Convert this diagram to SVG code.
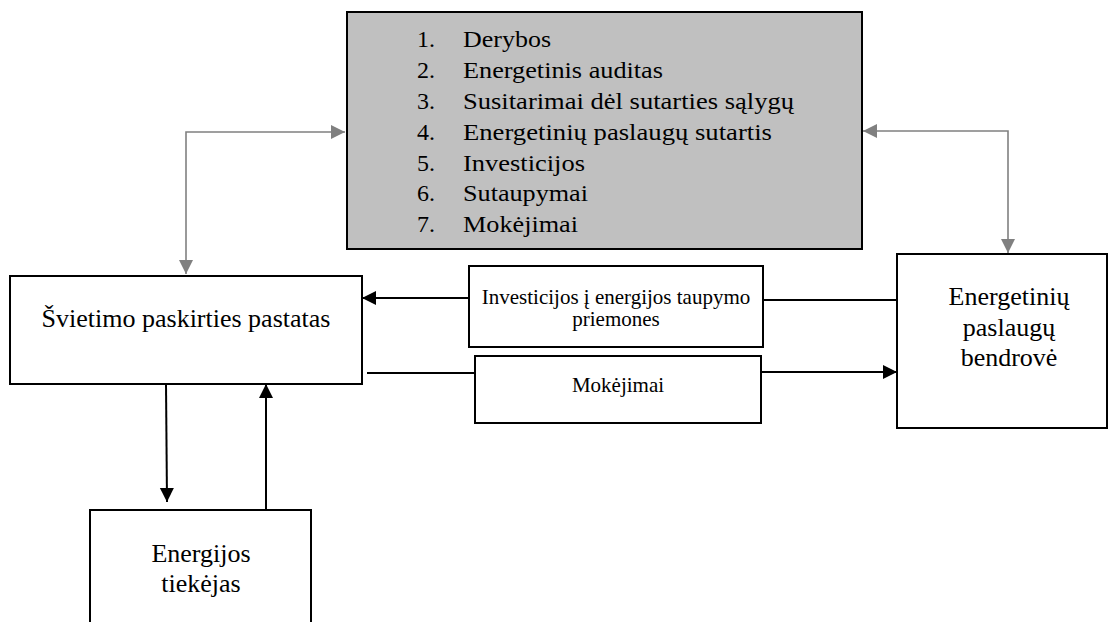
<svg xmlns="http://www.w3.org/2000/svg" width="1109" height="622" viewBox="0 0 1109 622">
<defs>
<marker id="ab" markerUnits="userSpaceOnUse" markerWidth="15" markerHeight="15" refX="14" refY="7" orient="auto-start-reverse" viewBox="0 0 15 15"><path d="M0,0 L14,7 L0,14 z" fill="#000"/></marker>
<marker id="ag" markerUnits="userSpaceOnUse" markerWidth="15" markerHeight="15" refX="14" refY="7" orient="auto-start-reverse" viewBox="0 0 15 15"><path d="M0,0 L14,7 L0,14 z" fill="#808080"/></marker>
<style>
.box{fill:#fff;stroke:#000;stroke-width:2}
.gbox{fill:#c0c0c0;stroke:#000;stroke-width:2}
.t{fill:#000}
.big{font-size:26px}
.lst{font-size:24px}
.sm{font-size:21px}
.blk{stroke:#000;stroke-width:2;fill:none}
.gry{stroke:#808080;stroke-width:1.6;fill:none}
</style>
</defs>
<g id="connectors">
<path class="gry" d="M186,274 L186,132 L345,132" marker-start="url(#ag)" marker-end="url(#ag)"/>
<path class="gry" d="M863,131 L1008,131 L1008,253" marker-start="url(#ag)" marker-end="url(#ag)"/>
<line class="blk" x1="897" y1="300" x2="763" y2="300"/>
<line class="blk" x1="469" y1="298" x2="362" y2="298" marker-end="url(#ab)"/>
<line class="blk" x1="367" y1="373" x2="475" y2="373"/>
<line class="blk" x1="761" y1="372" x2="897" y2="372" marker-end="url(#ab)"/>
<line class="blk" x1="166" y1="384" x2="167" y2="502" marker-end="url(#ab)"/>
<line class="blk" x1="266" y1="510" x2="266" y2="384" marker-end="url(#ab)"/>
</g>
<g font-family="Liberation Serif, DejaVu Serif, serif">
<g id="steps">
<rect class="gbox" x="347" y="12" width="515" height="237"/>
<g class="t lst" lengthAdjust="spacingAndGlyphs">
<text x="417" y="47">1.</text><text x="463" y="47" textLength="88" lengthAdjust="spacingAndGlyphs">Derybos</text>
<text x="417" y="78">2.</text><text x="463" y="78" textLength="200" lengthAdjust="spacingAndGlyphs">Energetinis auditas</text>
<text x="417" y="109">3.</text><text x="463" y="109" textLength="331" lengthAdjust="spacingAndGlyphs">Susitarimai dėl sutarties sąlygų</text>
<text x="417" y="140">4.</text><text x="463" y="140" textLength="309" lengthAdjust="spacingAndGlyphs">Energetinių paslaugų sutartis</text>
<text x="417" y="171">5.</text><text x="463" y="171" textLength="122" lengthAdjust="spacingAndGlyphs">Investicijos</text>
<text x="417" y="201">6.</text><text x="463" y="201" textLength="125" lengthAdjust="spacingAndGlyphs">Sutaupymai</text>
<text x="417" y="232">7.</text><text x="463" y="232" textLength="115" lengthAdjust="spacingAndGlyphs">Mokėjimai</text>
</g>
</g>
<g id="school">
<rect class="box" x="10" y="276" width="352" height="108"/>
<text class="t big" x="186" y="327" text-anchor="middle">Švietimo paskirties pastatas</text>
</g>
<g id="investments">
<rect class="box" x="469" y="266" width="294" height="81"/>
<text class="t sm" x="616" y="304" text-anchor="middle">Investicijos į energijos taupymo</text>
<text class="t sm" x="616" y="326" text-anchor="middle">priemones</text>
</g>
<g id="payments">
<rect class="box" x="475" y="356" width="286" height="67"/>
<text class="t sm" x="618" y="392" text-anchor="middle">Mokėjimai</text>
</g>
<g id="esco">
<rect class="box" x="897" y="254" width="210" height="174"/>
<text class="t big" x="1009" y="305" text-anchor="middle">Energetinių</text>
<text class="t big" x="1009" y="336" text-anchor="middle">paslaugų</text>
<text class="t big" x="1009" y="366" text-anchor="middle">bendrovė</text>
</g>
<g id="supplier">
<rect class="box" x="90" y="510" width="221" height="125"/>
<text class="t big" x="201" y="562" text-anchor="middle">Energijos</text>
<text class="t big" x="201" y="592" text-anchor="middle">tiekėjas</text>
</g>
</g>
</svg>
